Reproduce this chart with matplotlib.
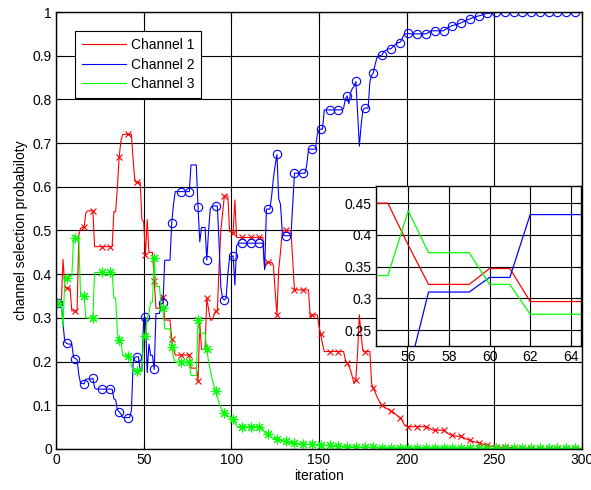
"""
Channel selection probability vs iteration, with a zoomed inset (iter 55-64).
"""

import numpy as np
import matplotlib
matplotlib.use("Agg")
import matplotlib.pyplot as plt
from matplotlib.ticker import FuncFormatter

# ─────────────────────────────────────────────────────────────
# DATA  (one value per iteration, 1..300)
# ─────────────────────────────────────────────────────────────
iterations = np.arange(1, 301)

channel_1 = [
    0.333, 0.333, 0.333, 0.434, 0.370, 0.368, 0.368, 0.368, 0.316, 0.316,
    0.316, 0.316, 0.490, 0.505, 0.507, 0.507, 0.540, 0.545, 0.545, 0.545,
    0.545, 0.463, 0.463, 0.463, 0.463, 0.463, 0.463, 0.463, 0.463, 0.463,
    0.463, 0.463, 0.543, 0.543, 0.600, 0.668, 0.705, 0.720, 0.720, 0.720,
    0.720, 0.720, 0.720, 0.660, 0.612, 0.610, 0.610, 0.610, 0.525, 0.520,
    0.444, 0.525, 0.450, 0.450, 0.450, 0.384, 0.322, 0.322, 0.322, 0.347,
    0.347, 0.295, 0.295, 0.295, 0.295, 0.252, 0.230, 0.215, 0.215, 0.215,
    0.215, 0.215, 0.215, 0.215, 0.215, 0.215, 0.185, 0.185, 0.185, 0.185,
    0.156, 0.288, 0.228, 0.228, 0.228, 0.345, 0.320, 0.295, 0.295, 0.305,
    0.316, 0.316, 0.417, 0.500, 0.540, 0.579, 0.579, 0.579, 0.497, 0.497,
    0.495, 0.570, 0.484, 0.484, 0.484, 0.484, 0.484, 0.484, 0.484, 0.484,
    0.484, 0.484, 0.484, 0.484, 0.484, 0.484, 0.484, 0.484, 0.413, 0.427,
    0.427, 0.427, 0.427, 0.420, 0.360, 0.307, 0.410, 0.450, 0.497, 0.500,
    0.500, 0.500, 0.500, 0.500, 0.430, 0.364, 0.364, 0.364, 0.364, 0.364,
    0.364, 0.364, 0.364, 0.364, 0.300, 0.307, 0.307, 0.307, 0.307, 0.280,
    0.262, 0.240, 0.223, 0.223, 0.223, 0.223, 0.223, 0.223, 0.223, 0.223,
    0.223, 0.223, 0.223, 0.223, 0.205, 0.196, 0.190, 0.180, 0.165, 0.150,
    0.159, 0.220, 0.307, 0.260, 0.225, 0.223, 0.223, 0.223, 0.223, 0.150,
    0.139, 0.130, 0.120, 0.112, 0.105, 0.100, 0.097, 0.094, 0.092, 0.089,
    0.087, 0.085, 0.082, 0.078, 0.075, 0.072, 0.070, 0.060, 0.053, 0.052,
    0.051, 0.051, 0.051, 0.051, 0.051, 0.051, 0.051, 0.051, 0.051, 0.051,
    0.051, 0.050, 0.048, 0.045, 0.043, 0.043, 0.043, 0.043, 0.043, 0.043,
    0.043, 0.040, 0.037, 0.034, 0.032, 0.032, 0.030, 0.030, 0.029, 0.029,
    0.029, 0.027, 0.025, 0.023, 0.021, 0.020, 0.018, 0.017, 0.016, 0.015,
    0.014, 0.013, 0.012, 0.010, 0.009, 0.009, 0.008, 0.007, 0.006, 0.005,
    0.005, 0.005, 0.004, 0.004, 0.004, 0.004, 0.003, 0.003, 0.003, 0.003,
    0.003, 0.003, 0.002, 0.002, 0.002, 0.002, 0.002, 0.002, 0.002, 0.002,
    0.001, 0.001, 0.001, 0.001, 0.001, 0.001, 0.001, 0.001, 0.001, 0.001,
    0.001, 0.001, 0.001, 0.001, 0.001, 0.001, 0.001, 0.001, 0.001, 0.001,
    0.001, 0.001, 0.001, 0.001, 0.001, 0.001, 0.001, 0.001, 0.001, 0.001,
]

channel_2 = [
    0.333, 0.333, 0.333, 0.286, 0.245, 0.242, 0.240, 0.240, 0.240, 0.210,
    0.207, 0.205, 0.170, 0.150, 0.150, 0.149, 0.160, 0.160, 0.160, 0.160,
    0.162, 0.140, 0.137, 0.137, 0.137, 0.137, 0.137, 0.137, 0.137, 0.137,
    0.137, 0.137, 0.115, 0.112, 0.090, 0.085, 0.080, 0.072, 0.072, 0.072,
    0.072, 0.072, 0.088, 0.200, 0.210, 0.211, 0.211, 0.180, 0.180, 0.300,
    0.301, 0.175, 0.240, 0.214, 0.214, 0.182, 0.310, 0.310, 0.310, 0.333,
    0.333, 0.432, 0.432, 0.432, 0.432, 0.518, 0.560, 0.589, 0.589, 0.589,
    0.589, 0.589, 0.589, 0.589, 0.589, 0.589, 0.650, 0.650, 0.650, 0.650,
    0.553, 0.474, 0.507, 0.507, 0.507, 0.432, 0.500, 0.550, 0.556, 0.556,
    0.556, 0.556, 0.470, 0.370, 0.345, 0.341, 0.345, 0.400, 0.440, 0.440,
    0.442, 0.375, 0.465, 0.471, 0.471, 0.471, 0.471, 0.471, 0.471, 0.471,
    0.471, 0.471, 0.471, 0.471, 0.471, 0.471, 0.471, 0.471, 0.410, 0.549,
    0.549, 0.549, 0.580, 0.620, 0.650, 0.674, 0.573, 0.560, 0.500, 0.488,
    0.488, 0.488, 0.488, 0.488, 0.560, 0.631, 0.631, 0.631, 0.631, 0.631,
    0.631, 0.631, 0.650, 0.686, 0.686, 0.686, 0.686, 0.686, 0.720, 0.730,
    0.732, 0.732, 0.776, 0.776, 0.776, 0.776, 0.776, 0.776, 0.776, 0.776,
    0.776, 0.776, 0.776, 0.780, 0.800, 0.808, 0.790, 0.815, 0.825, 0.830,
    0.841, 0.770, 0.693, 0.740, 0.775, 0.780, 0.780, 0.780, 0.840, 0.855,
    0.861, 0.880, 0.895, 0.900, 0.900, 0.902, 0.910, 0.912, 0.914, 0.916,
    0.916, 0.920, 0.924, 0.927, 0.930, 0.930, 0.935, 0.945, 0.950, 0.950,
    0.951, 0.950, 0.950, 0.950, 0.950, 0.950, 0.950, 0.950, 0.950, 0.950,
    0.950, 0.952, 0.955, 0.957, 0.957, 0.957, 0.957, 0.957, 0.957, 0.957,
    0.957, 0.960, 0.963, 0.965, 0.967, 0.969, 0.970, 0.971, 0.972, 0.974,
    0.975, 0.977, 0.979, 0.981, 0.983, 0.984, 0.986, 0.987, 0.988, 0.990,
    0.991, 0.992, 0.993, 0.995, 0.996, 0.997, 0.997, 0.998, 0.998, 0.999,
    0.999, 0.999, 0.999, 0.999, 0.999, 0.999, 1.000, 1.000, 1.000, 1.000,
    1.000, 1.000, 1.000, 1.000, 1.000, 1.000, 1.000, 1.000, 1.000, 1.000,
    1.000, 1.000, 1.000, 1.000, 1.000, 1.000, 1.000, 1.000, 1.000, 1.000,
    1.000, 1.000, 1.000, 1.000, 1.000, 1.000, 1.000, 1.000, 1.000, 1.000,
    1.000, 1.000, 1.000, 1.000, 1.000, 1.000, 1.000, 1.000, 1.000, 1.000,
]

channel_3 = [
    0.333, 0.333, 0.333, 0.280, 0.390, 0.392, 0.395, 0.395, 0.395, 0.482,
    0.482, 0.482, 0.480, 0.350, 0.349, 0.349, 0.300, 0.300, 0.300, 0.300,
    0.300, 0.404, 0.404, 0.404, 0.404, 0.404, 0.404, 0.404, 0.404, 0.404,
    0.404, 0.404, 0.345, 0.345, 0.265, 0.249, 0.249, 0.215, 0.213, 0.213,
    0.213, 0.213, 0.190, 0.180, 0.179, 0.179, 0.179, 0.179, 0.180, 0.260,
    0.259, 0.300, 0.310, 0.336, 0.336, 0.438, 0.372, 0.372, 0.372, 0.322,
    0.322, 0.275, 0.275, 0.275, 0.275, 0.234, 0.210, 0.199, 0.199, 0.199,
    0.199, 0.199, 0.199, 0.199, 0.199, 0.199, 0.168, 0.168, 0.168, 0.168,
    0.295, 0.265, 0.265, 0.265, 0.265, 0.228, 0.200, 0.180, 0.160, 0.145,
    0.133, 0.120, 0.105, 0.095, 0.088, 0.083, 0.080, 0.076, 0.072, 0.070,
    0.069, 0.060, 0.053, 0.051, 0.051, 0.051, 0.051, 0.051, 0.051, 0.051,
    0.051, 0.051, 0.051, 0.051, 0.051, 0.051, 0.051, 0.045, 0.038, 0.035,
    0.034, 0.030, 0.027, 0.025, 0.024, 0.023, 0.021, 0.020, 0.019, 0.018,
    0.018, 0.017, 0.016, 0.015, 0.015, 0.014, 0.013, 0.013, 0.012, 0.012,
    0.012, 0.011, 0.011, 0.011, 0.011, 0.011, 0.011, 0.010, 0.010, 0.010,
    0.010, 0.009, 0.009, 0.009, 0.008, 0.008, 0.008, 0.007, 0.007, 0.007,
    0.007, 0.006, 0.006, 0.006, 0.006, 0.005, 0.005, 0.005, 0.005, 0.005,
    0.005, 0.004, 0.004, 0.004, 0.004, 0.004, 0.004, 0.004, 0.004, 0.004,
    0.004, 0.004, 0.004, 0.004, 0.004, 0.003, 0.003, 0.003, 0.003, 0.003,
    0.003, 0.003, 0.003, 0.003, 0.003, 0.003, 0.003, 0.003, 0.003, 0.003,
    0.003, 0.003, 0.003, 0.003, 0.003, 0.003, 0.003, 0.003, 0.003, 0.003,
    0.003, 0.003, 0.003, 0.003, 0.003, 0.003, 0.003, 0.003, 0.003, 0.003,
    0.003, 0.003, 0.003, 0.003, 0.003, 0.003, 0.003, 0.003, 0.003, 0.003,
    0.003, 0.003, 0.003, 0.003, 0.003, 0.002, 0.002, 0.002, 0.002, 0.002,
    0.002, 0.002, 0.002, 0.002, 0.002, 0.002, 0.002, 0.002, 0.002, 0.002,
    0.002, 0.002, 0.002, 0.002, 0.002, 0.002, 0.002, 0.002, 0.002, 0.002,
    0.002, 0.002, 0.002, 0.002, 0.002, 0.002, 0.002, 0.002, 0.002, 0.002,
    0.002, 0.002, 0.002, 0.002, 0.002, 0.002, 0.002, 0.002, 0.002, 0.002,
    0.002, 0.002, 0.002, 0.002, 0.002, 0.002, 0.002, 0.002, 0.002, 0.002,
    0.002, 0.002, 0.002, 0.002, 0.002, 0.002, 0.002, 0.002, 0.002, 0.002,
]

labels = ["Channel 1", "Channel 2", "Channel 3"]

# ─────────────────────────────────────────────────────────────
# STYLE
# ─────────────────────────────────────────────────────────────
plt.rcParams["font.family"] = ["Liberation Sans", "DejaVu Sans"]
plt.rcParams["font.size"] = 10

# (values, colour, marker, marker size) -- (8, 2, 0) is an 8-spoke asterisk
SERIES = [
    (channel_1, "#ff0000", "x", 5),
    (channel_2, "#0000ff", "o", 6),
    (channel_3, "#00ff00", (8, 2, 0), 7),
]

fmt = FuncFormatter(lambda v, _: f"{v:g}")


def style_axes(ax):
    ax.tick_params(direction="in", top=True, right=True, length=4,
                   width=0.8, labelsize=10, pad=3)
    ax.grid(True, color="black", linestyle="-", linewidth=0.8)
    ax.set_axisbelow(True)
    for sp in ax.spines.values():
        sp.set_linewidth(1.0)
        sp.set_color("black")


# ─────────────────────────────────────────────────────────────
# MAIN PLOT
# ─────────────────────────────────────────────────────────────
fig = plt.figure(figsize=(5.91, 4.90), dpi=100)
ax = fig.add_axes([0.0948, 0.0837, 0.89, 0.8918])

for (vals, col, mk, ms), lab in zip(SERIES, labels):
    ax.plot(iterations, vals, color=col, lw=0.8, marker=mk, ms=ms,
            markevery=(0, 5), mfc="none", mec=col, mew=0.8)
    # legend entry shows the line only
    ax.plot([], [], color=col, lw=0.8, label=lab)

ax.set_xlim(0, 300)
ax.set_ylim(0, 1)
ax.set_xticks(np.arange(0, 301, 50))
ax.set_yticks(np.arange(0, 1.01, 0.1))
ax.yaxis.set_major_formatter(fmt)
style_axes(ax)
ax.set_xlabel("iteration", fontsize=10, labelpad=1)
ax.set_ylabel("channel selection probabiloty", fontsize=10, labelpad=3)

leg = ax.legend(loc="upper left", bbox_to_anchor=(0.036, 0.9565),
                borderaxespad=0, fancybox=False, framealpha=1,
                edgecolor="black", handlelength=3.2, handletextpad=0.3,
                labelspacing=0.4, borderpad=0.5, fontsize=10)
leg.get_frame().set_linewidth(0.8)

# ─────────────────────────────────────────────────────────────
# INSET  (zoom on iterations 55-64)
# ─────────────────────────────────────────────────────────────
ins = fig.add_axes([0.6357, 0.2939, 0.3474, 0.3271])
ins.set_facecolor("white")
for vals, col, mk, ms in SERIES:
    ins.plot(iterations, vals, color=col, lw=0.9)
ins.set_xlim(54.4, 64.5)
ins.set_ylim(0.225, 0.4775)
ins.set_xticks([56, 58, 60, 62, 64])
ins.set_yticks([0.25, 0.3, 0.35, 0.4, 0.45])
ins.yaxis.set_major_formatter(fmt)
style_axes(ins)

fig.savefig("out.png", dpi=100)
plt.close(fig)
